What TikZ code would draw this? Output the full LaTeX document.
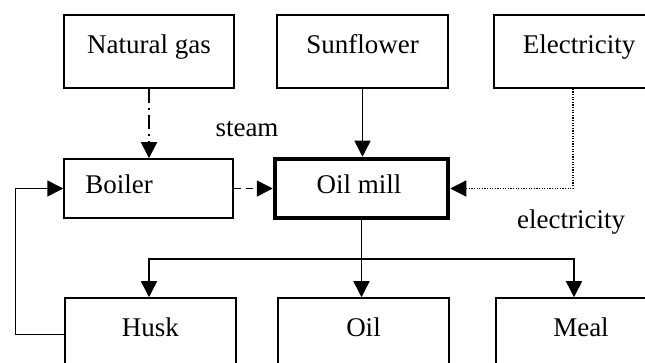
\documentclass[tikz,border=0pt]{standalone}
\usepackage{fontspec}
\setmainfont{Liberation Serif}
\usetikzlibrary{arrows.meta,calc}
\begin{document}
\begin{tikzpicture}[x=1pt,y=-1pt,
  every node/.style={font=\fontsize{27}{30}\selectfont},
  box/.style={draw,line width=1.5pt,rectangle,inner sep=0pt,text height=0.68em,text depth=0.32em},
  midbox/.style={box,text height=0.92em,text depth=0pt},
  mainbox/.style={midbox,line width=4.5pt},
  lbl/.style={inner sep=0pt,anchor=base},
  conn/.style={line width=1.5pt,-{Triangle[length=16pt,width=16pt]}},
  dashdotline/.style={conn,dash pattern=on 14pt off 5pt on 2pt off 5pt},
  dashline/.style={conn,dash pattern=on 7pt off 5pt},
  dotline/.style={conn,line width=1.2pt,dash pattern=on 1.2pt off 1.4pt}]
\useasboundingbox (0,0) rectangle (645,363);
\clip (0,0) rectangle (645,363);
% top row
\node[box,minimum width=170pt,minimum height=73pt] (ng) at (149,51.5) {Natural gas};
\node[box,minimum width=171pt,minimum height=73pt] (sf) at (362.5,51.5) {Sunflower};
\node[box,minimum width=170pt,minimum height=73pt] (el) at (579,51.5) {Electricity};
% middle row
\node[midbox,minimum width=169pt,minimum height=59pt] (bo) at (148.5,188.5) {Boiler\hspace*{59pt}};
\node[mainbox,minimum width=173pt,minimum height=59pt] (om) at (361.5,188.5) {Oil mill\hspace*{5pt}};
% bottom row
\node[box,minimum width=171pt,minimum height=73pt] (hu) at (150.5,334.5) {Husk};
\node[box,minimum width=171pt,minimum height=73pt] (oi) at (363.5,334.5) {Oil};
\node[box,minimum width=170pt,minimum height=73pt] (me) at (581,334.5) {Meal};
% labels
\node[lbl] (steam) at (247,137) {steam};
\node[lbl] (elec) at (571,229) {electricity};
% connectors
\draw[dashdotline] (ng.south) -- (ng.south |- bo.north);
\draw[conn] (sf.south) -- (sf.south |- om.north);
\coordinate (ec) at ($(el.south)+(-6,0)$);
\draw[dotline] (ec) |- (om.east);
\draw[dashline] (bo.east) -- (om.west);
\draw[conn] (om.south) -- (om.south |- oi.north);
\coordinate (br) at ($(om.south)+(0,39)$);
\coordinate (mt) at ($(me.north)+(-7,0)$);
\coordinate (ht) at ($(hu.north)+(-1.5,0)$);
\draw[conn] (br) -| (ht);
\draw[conn] (br) -| (mt);
\coordinate (fb) at ($(hu.west)+(-49,0)$);
\draw[conn] (hu.west) -- (fb) |- (bo.west);
\end{tikzpicture}
\end{document}
